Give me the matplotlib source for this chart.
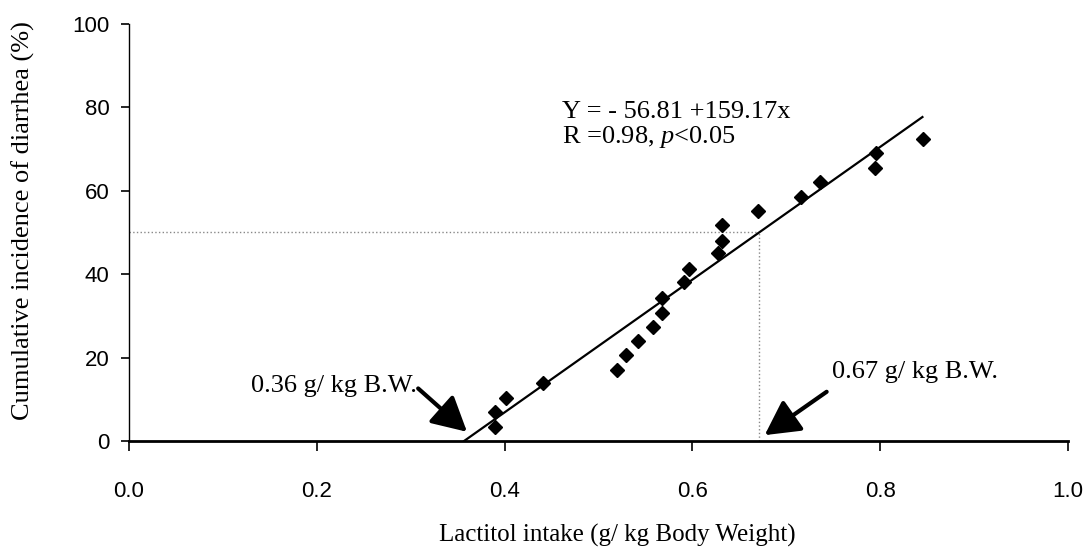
import numpy as np
import matplotlib.pyplot as plt

# ---- data ----
intake = [0.390, 0.390, 0.401, 0.441, 0.520, 0.529, 0.542, 0.558, 0.568, 0.568,
          0.591, 0.596, 0.627, 0.632, 0.632, 0.670, 0.716, 0.736, 0.794, 0.796, 0.846]
incidence = [3.4, 7.0, 10.3, 13.9, 17.0, 20.6, 24.0, 27.3, 30.7, 34.3,
             38.1, 41.2, 45.1, 48.0, 51.8, 55.2, 58.5, 62.1, 65.5, 69.1, 72.4]

intercept = -56.81
slope = 159.17
fit_range = [0.357, 0.845]
half_level = 50

x_ticks = [0.0, 0.2, 0.4, 0.6, 0.8, 1.0]
y_ticks = [0, 20, 40, 60, 80, 100]

serif = 'Liberation Serif'
sans = 'Liberation Sans'
plt.rcParams['mathtext.fontset'] = 'custom'
plt.rcParams['mathtext.rm'] = serif
plt.rcParams['mathtext.it'] = serif + ':italic'

fig = plt.figure(figsize=(10.9, 5.58), dpi=100)
ax = fig.add_axes([0.1183, 0.2097, 0.8615, 0.7473])

# regression line
fx = np.array(fit_range)
ax.plot(fx, intercept + slope * fx, color='black', lw=1.6, zorder=3)

# 50 % guide lines
x50 = (half_level - intercept) / slope
ax.plot([0, x50], [half_level, half_level], color='#888888', lw=1.0, ls=':', zorder=1)
ax.plot([x50, x50], [0, half_level], color='#888888', lw=1.0, ls=':', zorder=1)

# data points
ax.plot(intake, incidence, 'D', color='black', ms=7.5, zorder=4)

ax.set_xlim(0, 1.0)
ax.set_ylim(0, 100)
ax.set_xticks(x_ticks)
ax.set_xticklabels([f'{v:.1f}' for v in x_ticks])
ax.set_yticks(y_ticks)
ax.set_yticklabels([str(v) for v in y_ticks])

for s in ['top', 'right']:
    ax.spines[s].set_visible(False)
ax.spines['left'].set_linewidth(1.0)
ax.spines['bottom'].set_linewidth(2.0)
ax.tick_params(axis='x', direction='out', length=7, width=1.2, pad=22, labelsize=16)
ax.tick_params(axis='y', direction='out', length=6, width=1.2, pad=8, labelsize=16)
for lab in ax.get_xticklabels() + ax.get_yticklabels():
    lab.set_fontfamily(sans)

fig.text(0.566, 0.04, 'Lactitol intake (g/ kg Body Weight)', ha='center', va='center',
         fontsize=18, family=serif)
fig.text(0.021, 0.604, 'Cumulative incidence of diarrhea (%)', ha='center', va='center',
         rotation=90, fontsize=19, family=serif)

# regression equation
ax.text(0.461, 78.9, 'Y = - 56.81 +159.17x', ha='left', va='center', fontsize=19, family=serif)
ax.text(0.461, 72.9, r'R =0.98, $p$<0.05', ha='left', va='center', fontsize=19, family=serif)

# arrows to intercepts
arrow = dict(arrowstyle='-|>,head_length=1.4,head_width=0.75', color='black', lw=3,
             shrinkA=0, shrinkB=0, mutation_scale=15)
ax.annotate('', xy=(0.360, 2.2), xytext=(0.308, 12.6), arrowprops=arrow)
ax.text(0.307, 13.2, '0.36 g/ kg B.W.', ha='right', va='center', fontsize=19, family=serif)
ax.annotate('', xy=(0.677, 1.4), xytext=(0.743, 11.8), arrowprops=arrow)
ax.text(0.749, 16.5, '0.67 g/ kg B.W.', ha='left', va='center', fontsize=19, family=serif)

fig.savefig('out.png', dpi=100)
